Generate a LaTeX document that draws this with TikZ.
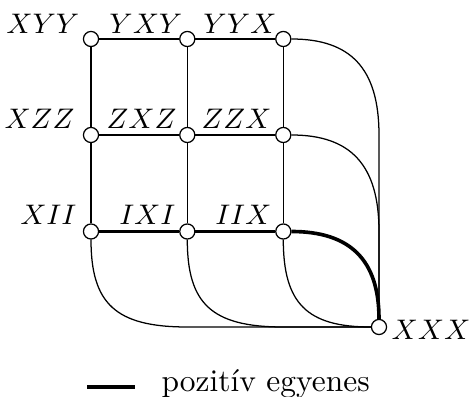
\documentclass[tikz,border=0pt]{standalone}
\usetikzlibrary{backgrounds,calc}
\begin{document}
\begin{tikzpicture}[x=0.318pt,y=-0.318pt,
  vtx/.style={circle,draw,fill=white,inner sep=0pt,minimum size=4.8pt,line width=0.4pt},
  lbl/.style={inner sep=0pt,font=\fontsize{9.2}{11}\selectfont},
  legtxt/.style={inner sep=0pt,font=\fontsize{10}{12}\selectfont},
  edge/.style={line width=0.4pt},
  posedge/.style={line width=1.15pt}]
\useasboundingbox (0,0) rectangle (470,397);
% vertices
\node[vtx] (XYY) at (91,39) {};
\node[vtx] (YXY) at (187.3,39) {};
\node[vtx] (YYX) at (283.3,39) {};
\node[vtx] (XZZ) at (91,135) {};
\node[vtx] (ZXZ) at (187.3,135) {};
\node[vtx] (ZZX) at (283.3,135) {};
\node[vtx] (XII) at (91,231.5) {};
\node[vtx] (IXI) at (187.3,231.5) {};
\node[vtx] (IIX) at (283.3,231.5) {};
\node[vtx] (XXX) at (379,327) {};
% turning points
\coordinate (tA) at (XXX |- ZZX);
\coordinate (tB) at (XXX |- IIX);
\coordinate (bA) at (IXI |- XXX);
\coordinate (bB) at (IIX |- XXX);
% labels
\node[lbl,anchor=base east] (lXYY) at (80,33.3) {$XYY$};
\node[lbl,anchor=base east] (lYXY) at (183,33.3) {$YXY$};
\node[lbl,anchor=base east] (lYYX) at (277,33.3) {$YYX$};
\node[lbl,anchor=base east] (lXZZ) at (75,128.3) {$XZZ$};
\node[lbl,anchor=base east] (lZXZ) at (177,128.3) {$ZXZ$};
\node[lbl,anchor=base east] (lZZX) at (272,128.3) {$ZZX$};
\node[lbl,anchor=base east] (lXII) at (77,225) {$XII$};
\node[lbl,anchor=base east] (lIXI) at (176,225) {$IXI$};
\node[lbl,anchor=base east] (lIIX) at (272,225) {$IIX$};
\node[lbl,anchor=base west] (lXXX) at (391,339.3) {$XXX$};
% legend
\coordinate (legA) at (87,386.7);
\coordinate (legB) at (135,386.7);
\node[legtxt,anchor=base west] (legT) at (161,392) {pozit\'iv egyenes};
\draw[posedge] (legA) -- (legB);
\begin{pgfonlayer}{background}
  % grid
  \draw[edge] (XYY) -- (YXY) -- (YYX);
  \draw[edge] (XZZ) -- (ZXZ) -- (ZZX);
  \draw[edge] (XYY) -- (XZZ) -- (XII);
  \draw[edge] (YXY) -- (ZXZ) -- (IXI);
  \draw[edge] (YYX) -- (ZZX) -- (IIX);
  % right curves
  \draw[edge] (YYX) .. controls +(67,0) and +(0,-67) .. (tA) -- (XXX);
  \draw[edge] (ZZX) .. controls +(67,0) and +(0,-67) .. (tB) -- (XXX);
  % bottom curves
  \draw[edge] (XII) .. controls +(0,72) and +(-72,0) .. (bA) -- (XXX);
  \draw[edge] (IXI) .. controls +(0,72) and +(-72,0) .. (bB) -- (XXX);
  \draw[edge] (IIX) .. controls +(0,72) and +(-72,0) .. (XXX);
  % positive line
  \draw[posedge] (XII) -- (IXI) -- (IIX);
  \draw[posedge] (IIX) .. controls +(67,0) and +(0,-67) .. (XXX);
\end{pgfonlayer}
\end{tikzpicture}
\end{document}
